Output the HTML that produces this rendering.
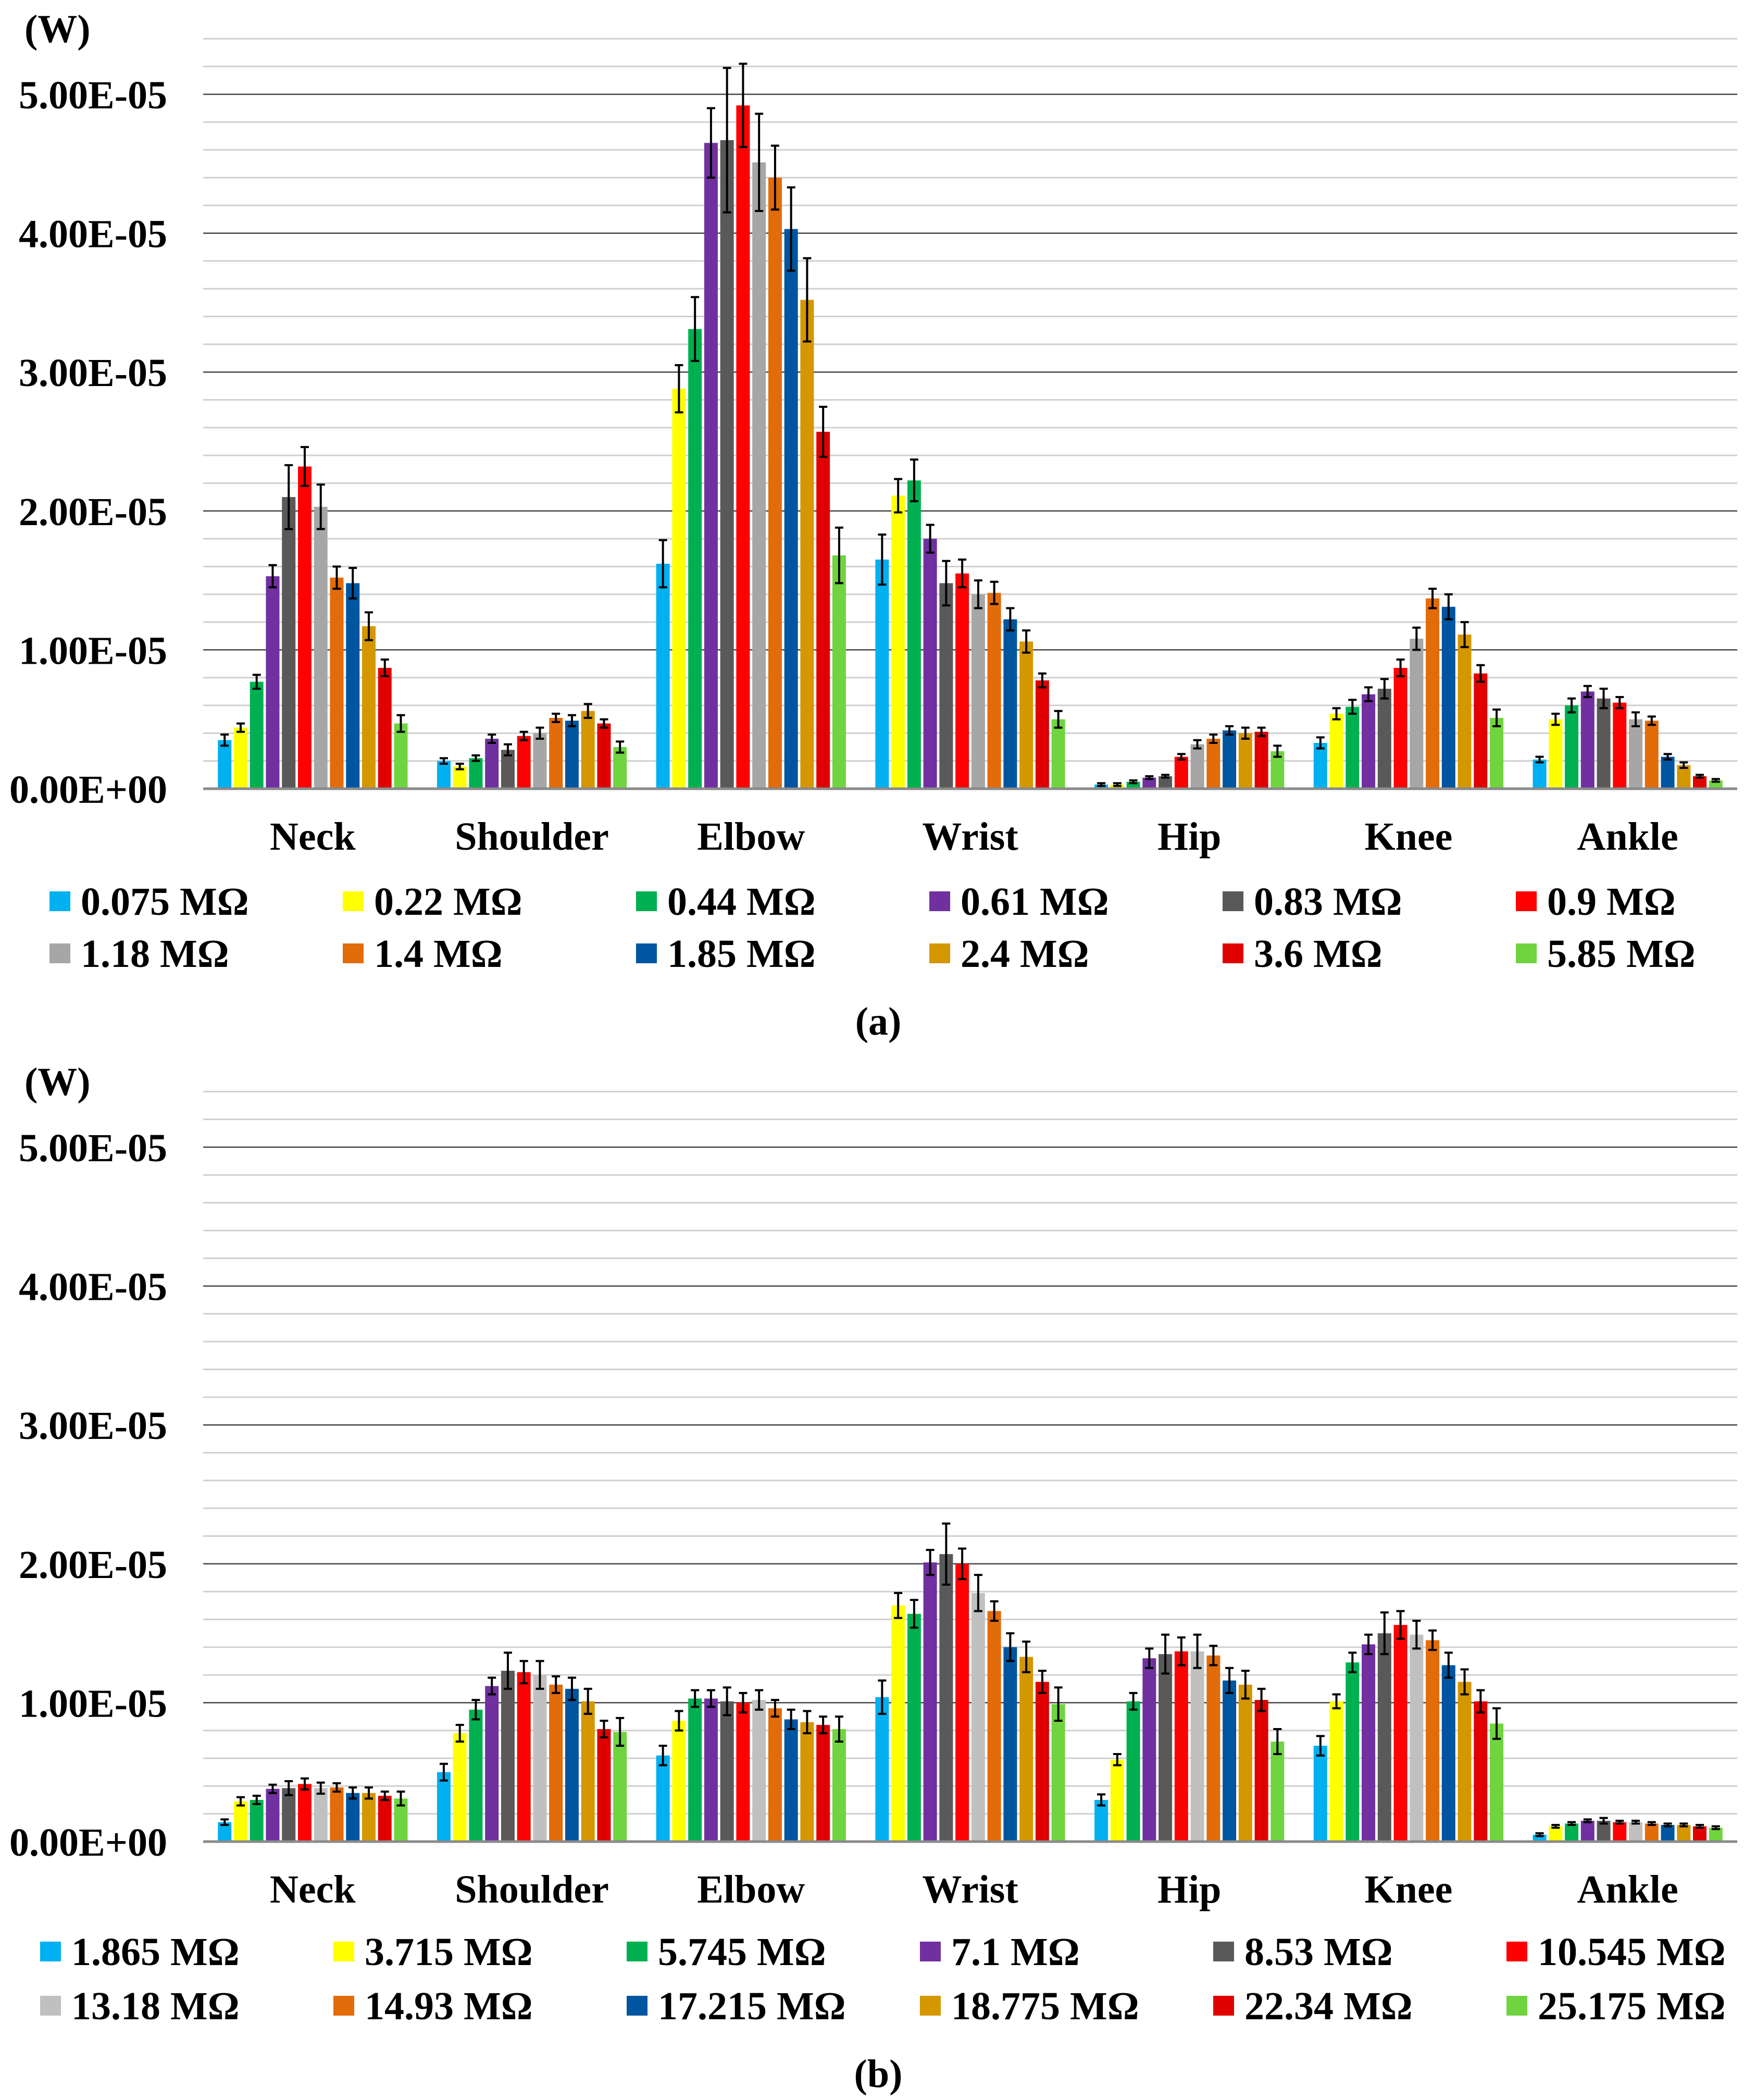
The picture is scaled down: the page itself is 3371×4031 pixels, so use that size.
<!DOCTYPE html>
<html><head><meta charset="utf-8"><style>
html,body{margin:0;padding:0;background:#fff;}
svg{display:block;font-family:"Liberation Serif",serif;font-weight:bold;}
</style></head><body>
<svg id="fig" width="3371" height="4031" viewBox="0 0 3371 4031" xmlns="http://www.w3.org/2000/svg"></svg>
<script>
const categories = ["Neck","Shoulder","Elbow","Wrist","Hip","Knee","Ankle"];
const colors = ["#00b0f0","#ffff00","#00b050","#7030a0","#595959","#ff0000","#a6a6a6","#e26b0a","#0055a0","#d49700","#e00000","#70d440"];
const colorsB = ["#00b0f0","#ffff00","#00b050","#7030a0","#595959","#ff0000","#c0c0c0","#e26b0a","#0055a0","#d49700","#e00000","#70d440"];
const yTicks = [0,1,2,3,4,5];
const yTickLabels = ["0.00E+00","1.00E-05","2.00E-05","3.00E-05","4.00E-05","5.00E-05"];
const legendA = ["0.075 MΩ","0.22 MΩ","0.44 MΩ","0.61 MΩ","0.83 MΩ","0.9 MΩ","1.18 MΩ","1.4 MΩ","1.85 MΩ","2.4 MΩ","3.6 MΩ","5.85 MΩ"];
const legendB = ["1.865 MΩ","3.715 MΩ","5.745 MΩ","7.1 MΩ","8.53 MΩ","10.545 MΩ","13.18 MΩ","14.93 MΩ","17.215 MΩ","18.775 MΩ","22.34 MΩ","25.175 MΩ"];
// values in units of 1e-5 W, rows = categories, cols = series
const valuesA = [
 [0.35,0.44,0.77,1.53,2.10,2.32,2.03,1.52,1.48,1.17,0.87,0.47],
 [0.20,0.16,0.22,0.36,0.28,0.38,0.40,0.51,0.49,0.56,0.47,0.30],
 [1.62,2.88,3.31,4.65,4.67,4.92,4.51,4.40,4.03,3.52,2.57,1.68],
 [1.65,2.11,2.22,1.80,1.48,1.55,1.40,1.41,1.22,1.06,0.78,0.50],
 [0.03,0.03,0.05,0.08,0.09,0.23,0.32,0.36,0.42,0.40,0.41,0.27],
 [0.33,0.54,0.59,0.68,0.72,0.87,1.08,1.37,1.31,1.11,0.83,0.51],
 [0.21,0.50,0.60,0.70,0.65,0.62,0.50,0.49,0.23,0.17,0.09,0.06]
];
const errorsA = [
 [0.04,0.03,0.05,0.08,0.23,0.14,0.16,0.08,0.11,0.10,0.06,0.06],
 [0.02,0.02,0.02,0.03,0.04,0.03,0.04,0.03,0.04,0.05,0.03,0.04],
 [0.17,0.17,0.23,0.25,0.52,0.30,0.35,0.23,0.30,0.30,0.18,0.20],
 [0.18,0.12,0.15,0.10,0.16,0.10,0.10,0.08,0.08,0.08,0.05,0.06],
 [0.01,0.01,0.01,0.01,0.01,0.02,0.03,0.03,0.03,0.04,0.03,0.04],
 [0.04,0.04,0.05,0.05,0.07,0.06,0.08,0.07,0.09,0.09,0.06,0.06],
 [0.02,0.04,0.05,0.04,0.07,0.04,0.05,0.03,0.02,0.02,0.01,0.01]
];
const valuesB = [
 [0.14,0.29,0.30,0.38,0.385,0.415,0.385,0.39,0.35,0.35,0.33,0.31],
 [0.50,0.78,0.95,1.12,1.23,1.22,1.20,1.13,1.10,1.01,0.81,0.79],
 [0.62,0.87,1.03,1.03,1.01,1.00,1.02,0.96,0.88,0.86,0.84,0.81],
 [1.04,1.70,1.64,2.01,2.07,2.00,1.79,1.66,1.40,1.33,1.15,0.99],
 [0.30,0.59,1.01,1.32,1.35,1.37,1.37,1.34,1.16,1.13,1.02,0.72],
 [0.69,1.01,1.29,1.42,1.50,1.56,1.49,1.45,1.27,1.15,1.01,0.85],
 [0.05,0.11,0.13,0.15,0.15,0.14,0.14,0.13,0.12,0.12,0.11,0.10]
];
const errorsB = [
 [0.02,0.03,0.03,0.03,0.05,0.04,0.04,0.03,0.04,0.04,0.03,0.05],
 [0.06,0.06,0.07,0.06,0.13,0.08,0.10,0.06,0.08,0.09,0.06,0.10],
 [0.07,0.07,0.06,0.06,0.10,0.07,0.07,0.06,0.07,0.08,0.06,0.09],
 [0.12,0.09,0.10,0.09,0.22,0.11,0.13,0.07,0.10,0.11,0.08,0.12],
 [0.04,0.04,0.06,0.07,0.14,0.10,0.12,0.07,0.09,0.10,0.08,0.09],
 [0.07,0.05,0.07,0.07,0.15,0.10,0.10,0.07,0.09,0.09,0.08,0.11],
 [0.01,0.01,0.01,0.01,0.02,0.01,0.01,0.01,0.01,0.01,0.01,0.01]
];

const NS = "http://www.w3.org/2000/svg";
const svg = document.getElementById("fig");
function mk(tag, attrs, parent){const e=document.createElementNS(NS,tag);for(const k in attrs)e.setAttribute(k,attrs[k]);(parent||svg).appendChild(e);return e;}

function drawChart(cfg){
  const g = mk("g",{});
  
  
  const x0=390, x1=3335, base=cfg.base, unit=266.6;
  const yS = v => base - v*unit;
  const catW = (x1-x0)/categories.length;
  // gridlines
  for(let i=1;i<=27;i++){
    const v=i*0.2; const major = (i%5===0);
    const ln = mk("line",{x1:x0,x2:x1,y1:yS(v),y2:yS(v),stroke:major?"#444":"#d0d0d0","stroke-width":major?2.5:3},g);
    
    
  }
  // y ticks
  yTicks.forEach((t,i)=>{
    const tx = mk("text",{x:321,y:yS(t)+27,"text-anchor":"end","font-size":76,fill:"#000"},g);
    tx.textContent = yTickLabels[i];
    
    
  });
  const unitT = mk("text",{x:47,y:cfg.base-1433,"font-size":76,fill:"#000"},g);
  unitT.textContent="(W)";
  
  
  // bars
  const pitch = 30.75, bw = 26;
  categories.forEach((c,ci)=>{
    const gx = x0 + ci*catW + (catW - pitch*12)/2;
    cfg.values[ci].forEach((v,si)=>{
      const bx = gx + si*pitch + (pitch-bw)/2;
      const r = mk("rect",{x:bx,y:yS(v),width:bw,height:base-yS(v),fill:cfg.colors[si]},g);
      
      
      const e = cfg.errors[ci][si], cx = bx+bw/2;
      const eg = mk("g",{stroke:"#000","stroke-width":4},g);
      
      
      mk("line",{x1:cx,x2:cx,y1:yS(v+e),y2:yS(v-e)},eg);
      mk("line",{x1:cx-8,x2:cx+8,y1:yS(v+e),y2:yS(v+e)},eg);
      mk("line",{x1:cx-8,x2:cx+8,y1:yS(v-e),y2:yS(v-e)},eg);
    });
    const ct = mk("text",{x:x0+ci*catW+catW/2,y:base+117,"text-anchor":"middle","font-size":76,fill:"#000"},g);
    ct.textContent = c;
    
    
  });
  const bl = mk("line",{x1:x0,x2:x1,y1:base,y2:base,stroke:"#8a8a8a","stroke-width":5},g);
  
  
  // legend
  cfg.legend.forEach((lab,i)=>{
    const col=i%6,row=Math.floor(i/6);
    const lx = cfg.legX + col*563, ly = cfg.legY + row*cfg.legRow;
    const lg = mk("g",{},g);
    
    
    mk("rect",{x:lx,y:ly-19,width:40,height:38,fill:cfg.colors[i]},lg);
    const t = mk("text",{x:lx+60,y:ly+26,"font-size":76,fill:"#000"},lg);
    t.textContent = lab;
  });
  const cap = mk("text",{x:1686,y:cfg.capY+26,"text-anchor":"middle","font-size":76,fill:"#000","font-family":"Liberation Serif, serif"},g);
  cap.textContent = cfg.caption;
  
  
}
drawChart({name:"chart-a",base:1514,values:valuesA,errors:errorsA,colors:colors,legend:legendA,legX:95,legY:1730,legRow:100,capY:1960,caption:"(a)"});
drawChart({name:"chart-b",base:3535,values:valuesB,errors:errorsB,colors:colorsB,legend:legendB,legX:77,legY:3746,legRow:104,capY:3980,caption:"(b)"});
</script>
</body></html>
